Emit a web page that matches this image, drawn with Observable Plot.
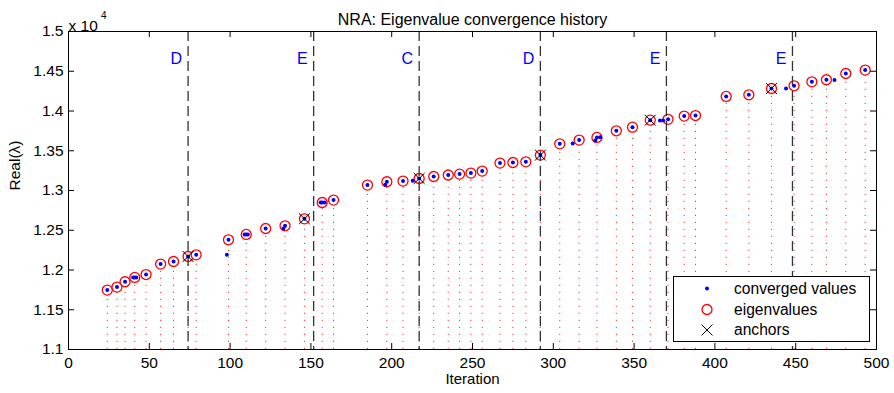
<!DOCTYPE html>
<html>
<head>
<meta charset="utf-8">
<script src="https://cdn.jsdelivr.net/npm/d3@7"></script>
<script src="https://cdn.jsdelivr.net/npm/@observablehq/plot@0.6"></script>
<style>
  html, body { margin: 0; padding: 0; background: white; }
  #wrap { position: relative; width: 894px; height: 393px; font-family: "Liberation Sans", Helvetica, Arial, sans-serif; }
  #legend { position: absolute; left: 673px; top: 276px; }
</style>
</head>
<body>
<div id="wrap"></div>
<script>
// ---- data (values in units of 1e4) ----
const eigIter = [24, 30, 35, 41, 48, 57, 65, 74, 79, 99, 110, 122, 134, 146, 157, 164,
  185, 197, 207, 217, 226, 235, 242, 249, 256, 267, 275, 283, 292, 304, 316, 327,
  339, 349, 360, 371, 381, 388, 407, 421, 435, 449, 460, 469, 481, 493];
const eigVal = [1.1747, 1.1785, 1.1852, 1.1906, 1.1943, 1.2074, 1.2107, 1.2170, 1.2191,
  1.2380, 1.2447, 1.2522, 1.2556, 1.2644, 1.2849, 1.2879,
  1.3068, 1.3110, 1.3118, 1.3151, 1.3176, 1.3195, 1.3206, 1.3219, 1.3244, 1.3345,
  1.3352, 1.3361, 1.3445, 1.3587, 1.3634, 1.3667, 1.3751, 1.3797, 1.3885, 1.3895,
  1.3936, 1.3943, 1.4183, 1.4204, 1.4283, 1.4317, 1.4367, 1.4393, 1.4472, 1.4515];
const convExtraIter = [98, 40, 42, 109, 111, 133, 156, 158.5, 196, 213, 312, 326, 329,
  366, 368, 444, 474];
const convExtraVal = [1.2191, 1.1906, 1.1906, 1.2447, 1.2447, 1.2522, 1.2849, 1.2849,
  1.3072, 1.3122, 1.3590, 1.3629, 1.3670, 1.3882, 1.3882, 1.4283, 1.4389];
const anchorIter = [74, 146, 217, 292, 360, 435];
const anchorVal = [1.2170, 1.2644, 1.3151, 1.3445, 1.3885, 1.4283];
const sepIter = [74, 151.7, 217, 292, 370, 448];
const sepLabel = ["D", "E", "C", "D", "E", "E"];
const xTicks = [0, 50, 100, 150, 200, 250, 300, 350, 400, 450, 500];
const yTicks = [1.1, 1.15, 1.2, 1.25, 1.3, 1.35, 1.4, 1.45, 1.5];

const eig = eigIter.map((x, i) => ({x, y: eigVal[i]}));
const conv = eig.concat(convExtraIter.map((x, i) => ({x, y: convExtraVal[i]})));
const anchors = anchorIter.map((x, i) => ({x, y: anchorVal[i]}));
const seps = sepIter.map((x, i) => ({x, label: sepLabel[i]}));

const W = 894, H = 393, mL = 68, mR = 18, mT = 31, mB = 44;
const innerH = H - mT - mB, innerW = W - mL - mR;
const tick = 6;
const FS = 15.5;

const chart = Plot.plot({
  width: W, height: H,
  marginLeft: mL, marginRight: mR, marginTop: mT, marginBottom: mB,
  style: {fontFamily: '"Liberation Sans", Helvetica, Arial, sans-serif', fontSize: FS + "px", background: "white", color: "black"},
  x: {domain: [0, 500]},
  y: {domain: [1.1, 1.5]},
  marks: [
    // stems
    Plot.ruleX(eig, {x: "x", y1: 1.1, y2: "y", stroke: "#ff0000", strokeWidth: 1, strokeDasharray: "1.2 5.8", strokeOpacity: 0.8}),
    // eigenvalue circles
    Plot.dot(eig, {x: "x", y: "y", r: 5, stroke: "#ff0000", strokeWidth: 1.3, fill: "white"}),
    // separator dashed lines
    Plot.ruleX(seps, {x: "x", stroke: "#333", strokeWidth: 1.3, strokeDasharray: "10 5"}),
    Plot.text(seps, {x: "x", text: "label", frameAnchor: "top", dy: 21, dx: -6, textAnchor: "end", fill: "#0000ff", fontSize: 16}),
    // converged values
    Plot.dot(conv, {x: "x", y: "y", r: 2, fill: "#0000ff", stroke: "none"}),
    // anchors
    Plot.dot(anchors, {x: "x", y: "y", r: 5, symbol: "times", stroke: "black", strokeWidth: 1}),
    // frame + inward ticks
    Plot.frame({stroke: "black", strokeWidth: 1}),
    Plot.ruleX(xTicks, {x: d => d, insetTop: innerH - tick, stroke: "black"}),
    Plot.ruleX(xTicks, {x: d => d, insetBottom: innerH - tick, stroke: "black"}),
    Plot.ruleY(yTicks, {y: d => d, insetRight: innerW - tick, stroke: "black"}),
    Plot.ruleY(yTicks, {y: d => d, insetLeft: innerW - tick, stroke: "black"}),
    // axes labels
    Plot.axisX(xTicks, {tickSize: 0, tickPadding: 7, label: null, fontSize: FS, tickFormat: d => String(d)}),
    Plot.axisY(yTicks, {tickSize: 0, tickPadding: 5, label: null, fontSize: FS, tickFormat: d => String(Math.round(d * 100) / 100)}),
    // titles
    Plot.text(["NRA: Eigenvalue convergence history"], {frameAnchor: "top", dy: -18, fontSize: 16, text: d => d}),
    Plot.text(["Iteration"], {frameAnchor: "bottom", dy: 34.5, fontSize: 15, text: d => d}),
    Plot.text(["Real(λ)"], {frameAnchor: "left", dx: -53, rotate: -90, fontSize: FS, text: d => d}),
    Plot.text(["x 10"], {frameAnchor: "top-left", dy: -12, dx: 0, textAnchor: "start", fontSize: FS, text: d => d}),
    Plot.text(["4"], {frameAnchor: "top-left", dy: -20, dx: 32.5, textAnchor: "start", fontSize: 10, text: d => d})
  ]
});
document.getElementById("wrap").appendChild(chart);

// legend (inside plot area, MATLAB-style box)
const legend = document.createElement("div");
legend.id = "legend";
legend.innerHTML = `
<svg width="197" height="66" xmlns="http://www.w3.org/2000/svg" style="font-family:'Liberation Sans',Helvetica,Arial,sans-serif;font-size:15.6px;display:block">
  <rect x="0.5" y="0.5" width="196" height="65" fill="white" stroke="black" stroke-width="1"/>
  <circle cx="34" cy="12.5" r="2" fill="#0000ff"/>
  <circle cx="34" cy="33.5" r="5" fill="none" stroke="#ff0000" stroke-width="1.3"/>
  <path d="M28.5,48.5 L39.5,59.5 M39.5,48.5 L28.5,59.5" stroke="black" stroke-width="1"/>
  <text x="61" y="12.5" dy="0.35em">converged values</text>
  <text x="61" y="33.5" dy="0.35em">eigenvalues</text>
  <text x="61" y="54" dy="0.35em">anchors</text>
</svg>`;
document.getElementById("wrap").appendChild(legend);
</script>
</body>
</html>
